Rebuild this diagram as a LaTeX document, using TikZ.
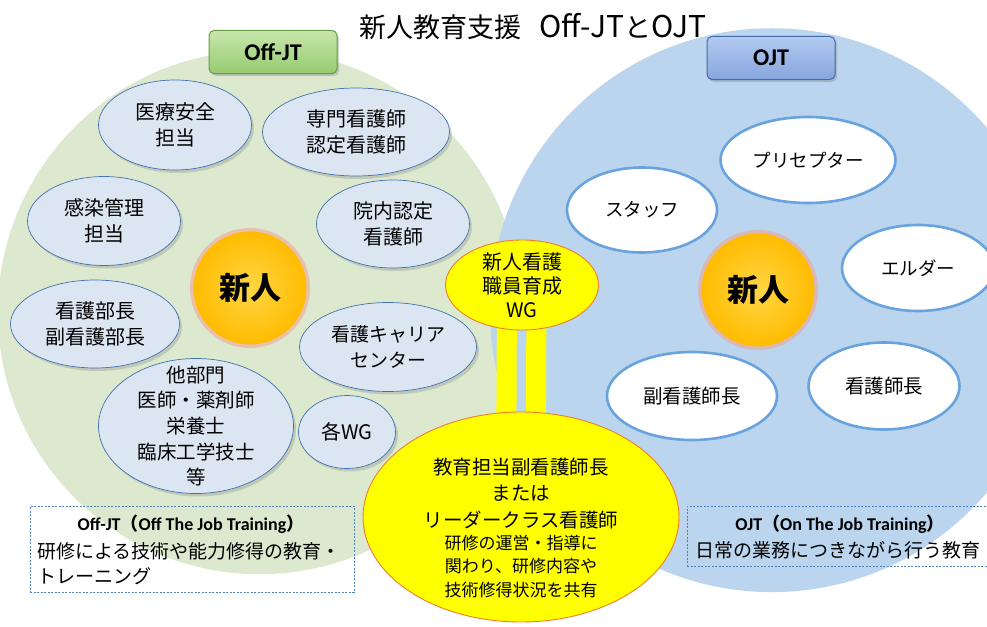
\documentclass[tikz,border=0pt]{standalone}
\usepackage{fontspec}
\setmainfont{Noto Sans CJK JP}
\newfontfamily\carl{Carlito}
\usetikzlibrary{shapes.geometric,shadows,fadings}
\definecolor{gbg}{RGB}{221,233,207}
\definecolor{bbg}{RGB}{186,213,237}
\definecolor{ellfill}{RGB}{220,230,242}
\definecolor{elldraw}{RGB}{65,113,176}
\definecolor{glowblue}{RGB}{105,163,222}
\definecolor{wgyellow}{RGB}{255,255,0}
\definecolor{wgdraw}{RGB}{237,125,49}
\definecolor{offtop}{RGB}{200,230,172}
\definecolor{offbot}{RGB}{150,203,112}
\definecolor{offdraw}{RGB}{105,155,70}
\definecolor{ojttop}{RGB}{178,202,240}
\definecolor{ojtbot}{RGB}{135,166,222}
\definecolor{ojtdraw}{RGB}{70,105,165}
\definecolor{shinorange}{RGB}{255,188,0}
\definecolor{shinlight}{RGB}{255,214,70}
\definecolor{shinglow}{RGB}{240,165,150}
\definecolor{boxdash}{RGB}{79,129,189}
\newcommand\fsz[2]{\fontsize{#1}{#2}\selectfont}
\pgfdeclarelayer{bg}
\pgfdeclarelayer{mid}
\pgfsetlayers{bg,mid,main}
\pgfdeclareradialshading{softring}{\pgfpointorigin}{color(0bp)=(pgftransparent!0); color(31bp)=(pgftransparent!0); color(38bp)=(pgftransparent!20); color(44bp)=(pgftransparent!60); color(50bp)=(pgftransparent!100)}
\pgfdeclarefading{softedge}{\pgfuseshading{softring}}
\tikzset{
  blueell/.style={ellipse, fill=ellfill, draw=elldraw, line width=0.7pt, inner sep=0pt,
    drop shadow={shadow xshift=2.5pt, shadow yshift=-3pt, opacity=0.3}},
  whiteell/.style={ellipse, fill=white, draw=glowblue, line width=2.6pt, inner sep=0pt},
  wgell/.style={ellipse, fill=wgyellow, draw=wgdraw, line width=0.9pt, inner sep=0pt},
  shin/.style={circle, inner sep=0pt, minimum size=113pt, inner color=shinlight, outer color=shinorange,
    preaction={draw=shinglow, line width=7pt, opacity=0.6}, font=\bfseries\fsz{31}{34}},
  txt/.style={align=center, inner sep=0pt},
  offlab/.style={rounded corners=5pt, top color=offtop, bottom color=offbot, draw=offdraw, line width=1pt,
    minimum width=128pt, minimum height=43pt, inner sep=0pt,
    drop shadow={shadow xshift=2pt, shadow yshift=-2.5pt, opacity=0.35}, font=\carl\bfseries\fsz{24}{28}},
  ojtlab/.style={offlab, top color=ojttop, bottom color=ojtbot, draw=ojtdraw},
  dashbox/.style={draw=boxdash, line width=0.8pt, dash pattern=on 2pt off 1.5pt, inner sep=0pt},
  barline/.style={draw=wgyellow, line width=20pt}
}
\begin{document}
\begin{tikzpicture}[x=1pt,y=-1pt]
\path[use as bounding box] (0,0) rectangle (987,626);
\clip (0,0) rectangle (987,626);
\begin{pgfonlayer}{bg}
  \fill[gbg, path fading=softedge] (260,312) circle (262pt);
  \fill[bbg, path fading=softedge] (772,310) circle (282pt);
\end{pgfonlayer}

% title
\node[txt] (title) at (533,26) {\fsz{27}{30}新人教育支援\hspace{18pt}{\fsz{30}{30}Off-JT}と{\fsz{30}{30}OJT}};

% labels
\node[offlab] (offjt) at (273,52) {Off-JT};
\node[ojtlab] (ojt) at (771,58) {OJT};

% Off-JT ellipses
\node[blueell, minimum width=153pt, minimum height=90pt] (anzen) at (175,125) {};
\node[txt, font=\fsz{20}{26}] (anzent) at (anzen) {医療安全\\担当};
\node[blueell, minimum width=187pt, minimum height=88pt] (senmon) at (356,132) {};
\node[txt, font=\fsz{20}{26}] (senmont) at (senmon) {専門看護師\\認定看護師};
\node[blueell, minimum width=153pt, minimum height=89pt] (kansen) at (104,221) {};
\node[txt, font=\fsz{20}{26}] (kansent) at (kansen) {感染管理\\担当};
\node[blueell, minimum width=153pt, minimum height=88pt] (innai) at (393,224) {};
\node[txt, font=\fsz{20}{26}] (innait) at (innai) {院内認定\\看護師};
\node[blueell, minimum width=169pt, minimum height=88pt] (bucho) at (95,324) {};
\node[txt, font=\fsz{20}{26}] (buchot) at (bucho) {看護部長\\副看護部長};
\node[blueell, minimum width=177pt, minimum height=89pt] (career) at (388,347) {};
\node[txt, font=\fsz{19}{26}] (careert) at (career) {看護キャリア\\センター};
\node[blueell, minimum width=195pt, minimum height=135pt] (tabu) at (196,426) {};
\node[txt, font=\fsz{19.5}{25.7}] (tabut) at (tabu) {他部門\\医師・薬剤師\\栄養士\\臨床工学技士\\等};
\node[blueell, minimum width=97pt, minimum height=73pt] (kakuwg) at (347,432) {};
\node[txt, font=\fsz{20}{26}] (kakuwgt) at (kakuwg) {各WG};

\node[shin] (shinL) at (250,288) {新人};

% OJT ellipses
\node[whiteell, minimum width=175pt, minimum height=86pt] (precep) at (808,160) {};
\node[txt, font=\fsz{18.5}{24}] (preceptt) at (precep) {プリセプター};
\node[whiteell, minimum width=150pt, minimum height=85pt] (staff) at (642,210) {};
\node[txt, font=\fsz{18.5}{24}] (stafft) at (staff) {スタッフ};
\node[whiteell, minimum width=152pt, minimum height=86pt] (elder) at (918,268) {};
\node[txt, font=\fsz{18.5}{24}] (eldert) at (elder) {エルダー};
\node[whiteell, minimum width=170pt, minimum height=88pt] (fuku) at (692,396) {};
\node[txt, font=\fsz{19.5}{24}] (fukut) at (fuku) {副看護師長};
\node[whiteell, minimum width=151pt, minimum height=87pt] (shicho) at (884,386) {};
\node[txt, font=\fsz{19.5}{24}] (shichot) at (shicho) {看護師長};

\node[shin] (shinR) at (758,290) {新人};

% WG and big ellipse
\node[wgell, minimum width=153pt, minimum height=90pt] (wg) at (522,285) {};
\node[txt, font=\fsz{20}{24}] (wgt) at (wg) {新人看護\\職員育成\\WG};
\node[wgell, minimum width=316pt, minimum height=210pt] (big) at (521,517) {};
\node[txt, font=\fsz{19.5}{26.5}] (bigt1) at (521,493.5) {教育担当副看護師長\\または\\リーダークラス看護師};
\node[txt, font=\fsz{17}{23.5}] (bigt2) at (521,566.5) {研修の運営・指導に\\関わり、研修内容や\\技術修得状況を共有};

\begin{pgfonlayer}{mid}
  \draw[barline] ([xshift=-15pt]wg.center) -- ([xshift=-15pt]big.center);
  \draw[barline] ([xshift=14.5pt]wg.center) -- ([xshift=14.5pt]big.center);
\end{pgfonlayer}

% explanation boxes
\node[dashbox, minimum width=324pt, minimum height=86pt] (offbox) at (192,549) {};
\node[txt, font=\bfseries\fsz{18}{22}] (offbox1) at (191,524) {{\carl Off-JT}（{\carl Off The Job Training}）};
\node[txt, anchor=west, font=\fsz{19}{24}] (offbox2) at (37,551) {研修による技術や能力修得の教育・};
\node[txt, anchor=west, font=\fsz{19}{24}] (offbox3) at (37,576) {トレーニング};

\node[dashbox, minimum width=310pt, minimum height=60pt] (ojtbox) at (842,536) {};
\node[txt, font=\bfseries\fsz{18}{22}] (ojtbox1) at (840,524) {{\carl OJT}（{\carl On The Job Training}）};
\node[txt, font=\fsz{19}{24}] (ojtbox2) at (838,550) {日常の業務につきながら行う教育};
\end{tikzpicture}
\end{document}
